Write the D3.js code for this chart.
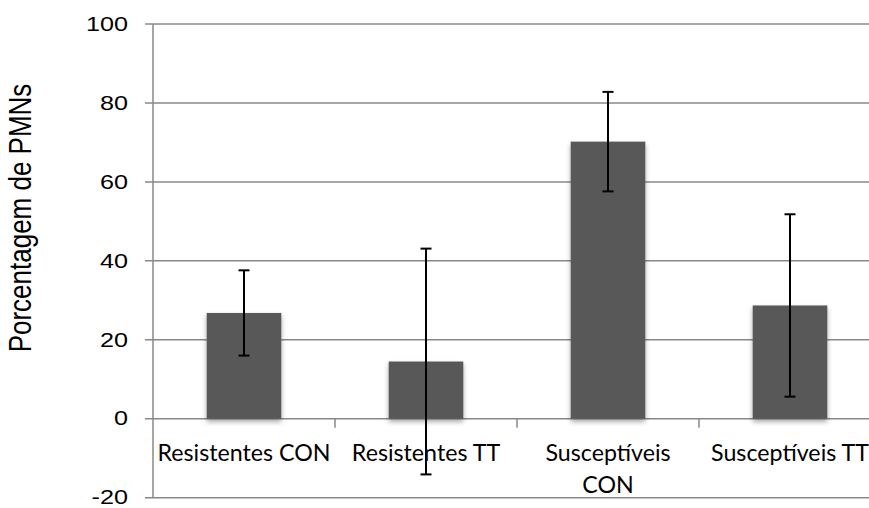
<!DOCTYPE html>
<html>
<head>
<meta charset="utf-8">
<script src="https://cdn.jsdelivr.net/npm/d3@7"></script>
<style>
  body { margin: 0; background: #fff; }
  svg { display: block; }
</style>
</head>
<body>
<svg id="chart"></svg>
<script>
var categories = [["Resistentes CON"], ["Resistentes TT"], ["Susceptíveis", "CON"], ["Susceptíveis TT"]];
var means = [26.8, 14.5, 70.2, 28.7];
var errors = [10.8, 28.6, 12.6, 23.1];
var yTicks = [-20, 0, 20, 40, 60, 80, 100];

var width = 869, height = 508;
var sx = 1.2; // text looks stretched sideways in the original
var svg = d3.select("#chart").attr("width", width).attr("height", height);

var defs = svg.append("defs");
var f = defs.append("filter").attr("id", "shadow")
    .attr("x", "-20%").attr("y", "-20%").attr("width", "140%").attr("height", "140%");
f.append("feDropShadow").attr("dx", 0).attr("dy", 3).attr("stdDeviation", 2.5)
    .attr("flood-color", "#000").attr("flood-opacity", 0.35);

var x = d3.scaleBand()
    .domain(d3.range(categories.length))
    .range([153, 881])
    .paddingInner(0.59)
    .paddingOuter(0.295);
var y = d3.scaleLinear().domain([-20, 100]).range([497.7, 24]);

var step = x.step();
var left = 153, right = 881;

// gridlines + tick marks
svg.selectAll(".grid")
    .data(yTicks)
    .enter()
    .append("line")
    .attr("x1", left - 8).attr("x2", right)
    .attr("y1", function (d) { return y(d); })
    .attr("y2", function (d) { return y(d); })
    .attr("stroke", "#888")
    .attr("stroke-width", 1.5);

// y axis line
svg.append("line")
    .attr("x1", left).attr("x2", left)
    .attr("y1", y(100)).attr("y2", y(-20))
    .attr("stroke", "#888").attr("stroke-width", 1.5);

// category ticks on zero line
svg.selectAll(".ctick")
    .data(d3.range(1, categories.length))
    .enter()
    .append("line")
    .attr("x1", function (d) { return left + d * step; })
    .attr("x2", function (d) { return left + d * step; })
    .attr("y1", y(0)).attr("y2", y(0) + 9)
    .attr("stroke", "#888").attr("stroke-width", 1.5);

// y tick labels
svg.selectAll(".ylab")
    .data(yTicks)
    .enter()
    .append("g")
    .attr("transform", function (d) { return "translate(128," + y(d) + ") scale(" + sx + ",1)"; })
    .append("text")
    .attr("text-anchor", "end")
    .attr("dy", "0.32em")
    .attr("font-family", "Liberation Sans, Arial, sans-serif")
    .attr("font-size", 21)
    .attr("fill", "#000")
    .text(function (d) { return d; });

// bars
svg.selectAll(".bar")
    .data(means)
    .enter()
    .append("rect")
    .attr("x", function (d, i) { return x(i); })
    .attr("width", x.bandwidth())
    .attr("y", function (d) { return y(Math.max(0, d)); })
    .attr("height", function (d) { return Math.abs(y(d) - y(0)); })
    .attr("fill", "#595959")
    .attr("filter", "url(#shadow)");

// error bars
var eb = svg.selectAll(".err")
    .data(means)
    .enter()
    .append("g")
    .attr("stroke", "#000")
    .attr("stroke-width", 2);
eb.append("line")
    .attr("x1", function (d, i) { return x(i) + x.bandwidth() / 2; })
    .attr("x2", function (d, i) { return x(i) + x.bandwidth() / 2; })
    .attr("y1", function (d, i) { return y(d + errors[i]); })
    .attr("y2", function (d, i) { return y(d - errors[i]); });
[1, -1].forEach(function (s) {
    eb.append("line")
        .attr("x1", function (d, i) { return x(i) + x.bandwidth() / 2 - 5.5; })
        .attr("x2", function (d, i) { return x(i) + x.bandwidth() / 2 + 5.5; })
        .attr("y1", function (d, i) { return y(d + s * errors[i]); })
        .attr("y2", function (d, i) { return y(d + s * errors[i]); });
});

// category labels
var cl = svg.selectAll(".clab")
    .data(categories)
    .enter()
    .append("g")
    .attr("transform", function (d, i) { return "translate(" + (x(i) + x.bandwidth() / 2) + ",461) scale(1.01,1)"; })
    .append("text")
    .attr("text-anchor", "middle")
    .attr("font-family", "Lato, sans-serif")
    .attr("font-size", 23)
    .attr("fill", "#000");
cl.selectAll("tspan")
    .data(function (d) { return d; })
    .enter()
    .append("tspan")
    .attr("x", 0)
    .attr("y", function (d, i) { return i * 32; })
    .text(function (d) { return d; });

// y axis title
svg.append("g")
    .attr("transform", "translate(31,218) scale(" + sx + ",1) rotate(-90)")
    .append("text")
    .attr("text-anchor", "middle")
    .attr("font-family", "Liberation Sans, Arial, sans-serif")
    .attr("font-size", 26)
    .attr("fill", "#000")
    .text("Porcentagem de PMNs");
</script>
</body>
</html>
